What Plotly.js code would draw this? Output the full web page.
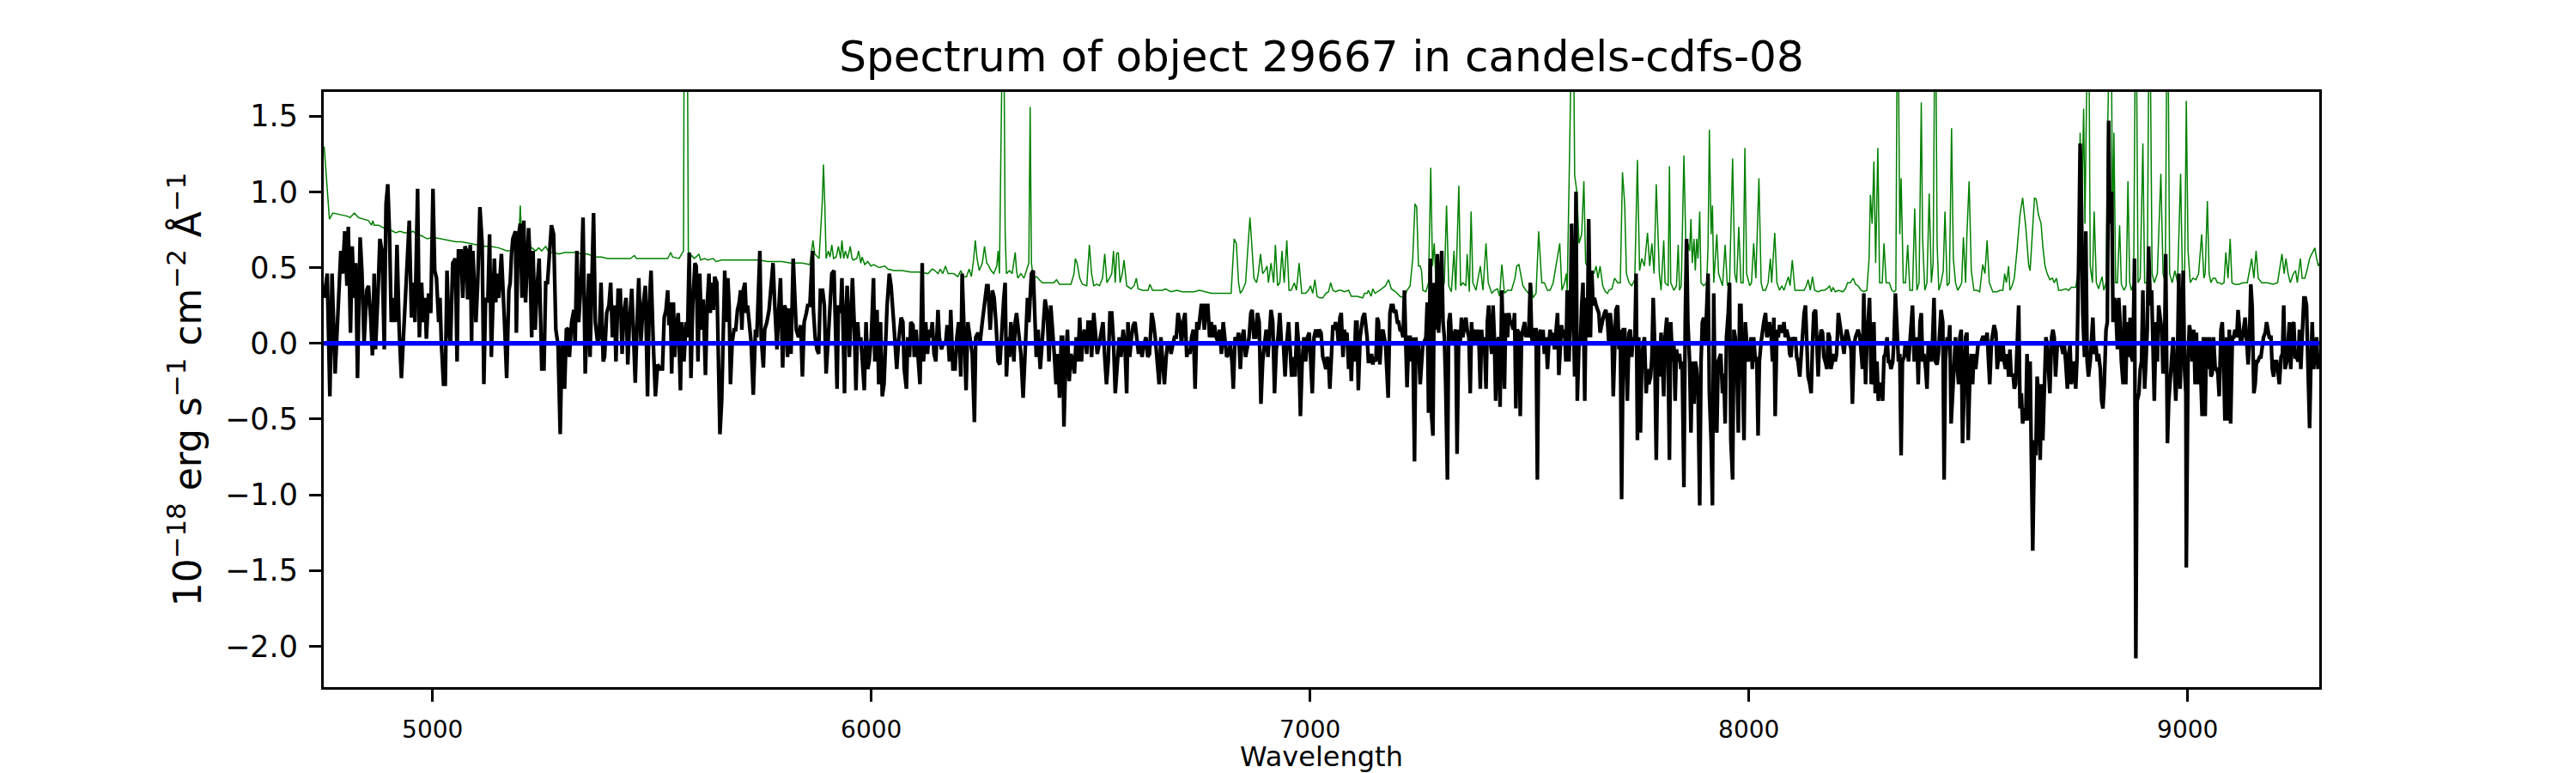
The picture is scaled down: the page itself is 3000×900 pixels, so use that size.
<!DOCTYPE html>
<html>
<head>
<meta charset="utf-8">
<title>Spectrum of object 29667</title>
<script src="https://cdn.plot.ly/plotly-3.0.1.min.js"></script>
<style>
  html, body { margin: 0; padding: 0; background: #ffffff; }
  #spectrum { width: 3000px; height: 900px; }
</style>
</head>
<body>
<div id="spectrum"></div>
<script>
// 1D spectrum of object 29667 (candels-cdfs-08).
// Wavelength in Angstrom, flux in 1e-18 erg/s/cm2/A.

const blackWave = [
  // 4750 - 5520
  4753,4760,4766,4771,4778,4786,4791,4795,4800,4805,4808,4813,4817,4821,4825,4829,4835,4839,4844,4850,
  4854,4859,4863,4867,4870,4876,4880,4885,4890,4894,4898,4902,4906,4911,4915,4919,4924,4929,4934,4939,
  4943,4947,4952,4956,4960,4966,4970,4975,4979,4983,4986,4991,4996,5001,5005,5009,5014,5017,5020,5025,
  5029,5033,5037,5041,5046,5052,5056,5059,5065,5069,5074,5078,5080,5086,5089,5092,5095,5099,5103,5108,
  5113,5117,5121,5126,5130,5134,5138,5141,5144,5148,5151,5157,5164,5169,5174,5177,5180,5183,5189,5191,
  5195,5200,5204,5208,5212,5216,5219,5222,5226,5229,5234,5239,5243,5249,5254,5258,5262,5267,5271,5276,
  5281,5286,5291,5295,5301,5305,5309,5312,5317,5322,5325,5329,5333,5339,5343,5348,5352,5356,5359,5363,
  5367,5371,5376,5380,5384,5389,5392,5397,5402,5406,5410,5415,5418,5423,5428,5432,5436,5441,5445,5449,
  5454,5457,5462,5467,5470,5475,5480,5485,5490,5494,5498,5503,5508,5513,5519,
  // 5520 - 6265
  5524,5528,5532,5536,5539,5542,5545,5549,5552,5555,5560,5565,5568,5573,5578,5581,5585,5589,5593,5598,
  5601,5605,5609,5613,5617,5622,5626,5630,5633,5637,5640,5643,5648,5652,5655,5659,5663,5666,5669,5673,
  5676,5679,5683,5687,5691,5695,5699,5702,5705,5708,5712,5715,5718,5722,5726,5731,5736,5739,5742,5746,
  5749,5754,5757,5762,5767,5772,5776,5780,5785,5789,5793,5798,5802,5806,5809,5813,5817,5822,5826,5829,
  5834,5839,5843,5847,5852,5855,5860,5866,5868,5872,5876,5880,5884,5889,5893,5897,5902,5906,5910,5915,
  5919,5922,5925,5930,5933,5939,5941,5945,5950,5953,5957,5961,5965,5969,5972,5976,5979,5984,5988,5992,
  5995,6000,6005,6008,6013,6017,6021,6025,6029,6032,6036,6041,6045,6051,6056,6058,6062,6068,6072,6075,
  6080,6083,6087,6090,6095,6098,6102,6106,6111,6116,6119,6124,6128,6132,6135,6139,6143,6147,6152,6155,
  6160,6165,6169,6173,6178,6181,6186,6191,6195,6199,6204,6207,6210,6216,6220,6225,6230,6235,6238,6243,
  6248,6253,6258,6263,
  // 6265 - 7025
  6266,6271,6276,6280,6284,6289,6293,6297,6302,6305,6308,6312,6315,6318,6321,6325,6328,6331,6336,6341,
  6346,6349,6352,6356,6359,6362,6365,6369,6372,6376,6380,6385,6389,6393,6396,6401,6405,6409,6413,6417,
  6421,6425,6429,6433,6436,6439,6443,6447,6451,6455,6459,6463,6467,6471,6475,6479,6482,6486,6491,6494,
  6498,6502,6507,6511,6515,6519,6524,6528,6532,6536,6540,6544,6548,6552,6556,6561,6565,6569,6574,6578,
  6582,6585,6589,6593,6597,6601,6605,6609,6613,6617,6621,6626,6630,6634,6639,6643,6647,6651,6656,6660,
  6664,6668,6672,6675,6680,6683,6687,6691,6695,6699,6703,6707,6711,6715,6719,6722,6726,6730,6734,6738,
  6742,6746,6750,6752,6755,6759,6763,6767,6771,6775,6778,6782,6786,6790,6794,6798,6802,6806,6810,6814,
  6818,6822,6825,6829,6833,6837,6841,6845,6849,6853,6857,6861,6865,6868,6872,6876,6880,6884,6888,6892,
  6896,6900,6904,6908,6911,6915,6919,6923,6927,6931,6935,6939,6943,6947,6951,6954,6958,6962,6966,6970,
  6974,6978,6982,6986,6990,6994,6998,7001,7005,7009,7013,7017,7021,7025,
  // 7029 - 7790
  7029,7032,7036,7039,7042,7045,7049,7052,7055,7058,7062,7065,7068,7071,7075,7078,7081,7084,7088,7091,
  7094,7097,7101,7104,7107,7110,7114,7117,7120,7124,7127,7130,7133,7137,7140,7143,7146,7150,7153,7156,
  7159,7163,7166,7169,7172,7178,7182,7185,7189,7192,7195,7199,7202,7205,7208,7212,7215,7218,7221,7225,
  7228,7231,7234,7238,7241,7244,7247,7251,7254,7257,7260,7264,7267,7270,7274,7277,7280,7283,7287,7290,
  7293,7296,7300,7303,7306,7309,7313,7316,7319,7322,7326,7329,7332,7335,7339,7342,7345,7348,7352,7355,
  7358,7362,7365,7368,7371,7375,7378,7381,7384,7388,7391,7394,7397,7401,7404,7407,7410,7414,7417,7420,
  7423,7427,7430,7433,7437,7440,7443,7446,7450,7453,7456,7459,7463,7466,7469,7472,7476,7479,7482,7485,
  7489,7492,7495,7498,7502,7505,7508,7511,7515,7518,7521,7525,7528,7531,7534,7538,7541,7544,7547,7551,
  7554,7557,7560,7564,7567,7570,7573,7577,7580,7583,7586,7590,7593,7596,7599,7603,7606,7609,7613,7616,
  7619,7622,7626,7629,7632,7635,7639,7642,7645,7648,7652,7655,7658,7661,7665,7668,7671,7674,7678,7681,
  7684,7688,7691,7694,7697,7701,7704,7707,7710,7714,7717,7720,7723,7727,7730,7733,7736,7740,7743,7746,
  7749,7753,7756,7759,7762,7766,7769,7772,7776,7779,7782,7785,7789,
  // 7793 - 8553
  7793,7796,7800,7803,7806,7809,7813,7816,7819,7822,7826,7829,7832,7835,7839,7842,7845,7848,7852,7855,
  7858,7861,7865,7868,7871,7875,7878,7881,7884,7888,7891,7894,7897,7901,7904,7907,7910,7914,7917,7920,
  7923,7927,7930,7933,7936,7940,7943,7946,7949,7953,7956,7959,7963,7966,7969,7972,7976,7979,7982,7985,
  7989,7992,7995,7998,8002,8005,8008,8011,8015,8018,8021,8024,8028,8031,8034,8038,8041,8044,8047,8051,
  8054,8057,8060,8064,8067,8070,8073,8077,8080,8083,8086,8090,8093,8096,8099,8103,8106,8109,8112,8116,
  8119,8122,8126,8129,8132,8135,8139,8142,8145,8148,8152,8155,8158,8161,8165,8168,8171,8174,8178,8181,
  8184,8187,8191,8194,8197,8200,8204,8207,8210,8214,8217,8220,8223,8227,8230,8233,8236,8240,8243,8246,
  8249,8253,8256,8259,8262,8266,8269,8272,8275,8279,8282,8285,8288,8292,8295,8298,8302,8305,8308,8311,
  8315,8318,8321,8324,8328,8331,8334,8337,8341,8344,8347,8350,8354,8357,8360,8364,8367,8370,8373,8377,
  8380,8383,8386,8390,8393,8396,8399,8403,8406,8409,8412,8416,8419,8422,8425,8429,8432,8435,8438,8442,
  8445,8448,8452,8455,8458,8461,8465,8468,8471,8474,8478,8481,8484,8487,8491,8494,8497,8500,8504,8507,
  8510,8513,8517,8520,8523,8527,8530,8533,8536,8540,8543,8546,8549,8553,
  // 8556 - 9300
  8556,8559,8563,8566,8569,8572,8576,8579,8582,8585,8589,8592,8595,8598,8602,8605,8608,8611,8615,8618,
  8621,8624,8628,8631,8634,8638,8641,8644,8647,8651,8654,8657,8660,8664,8667,8670,8673,8677,8680,8683,
  8686,8690,8693,8696,8699,8703,8706,8709,8712,8716,8719,8722,8726,8729,8732,8735,8739,8742,8745,8748,
  8752,8755,8758,8761,8765,8768,8771,8774,8778,8781,8784,8787,8791,8794,8797,8801,8804,8807,8810,8814,
  8817,8820,8823,8827,8830,8833,8836,8840,8843,8846,8849,8853,8856,8859,8862,8866,8869,8872,8875,8879,
  8882,8885,8889,8892,8895,8898,8902,8905,8908,8911,8915,8918,8921,8924,8928,8931,8934,8937,8941,8944,
  8947,8950,8954,8957,8960,8964,8967,8970,8973,8977,8980,8983,8986,8990,8993,8996,8997,
  9001,9004,9007,9010,9014,9017,9020,9023,9027,9030,9033,9036,9040,9043,9046,9050,9053,9056,9059,9063,
  9066,9069,9072,9076,9079,9082,9085,9089,9092,9095,9098,9102,9105,9108,9112,9115,9118,9121,9125,9128,
  9131,9134,9138,9141,9144,9147,9151,9154,9157,9160,9164,9167,9170,9173,9177,9180,9183,9186,9190,9193,
  9196,9199,9203,9206,9209,9213,9216,9219,9222,9226,9229,9232,9235,9239,9242,9245,9248,9252,9255,9258,
  9261,9265,9268,9271,9274,9278,9281,9284,9287,9291,9294,9297,9300
];

const blackFlux = [
  // 4750 - 5520
  0.30,0.46,-0.35,0.46,-0.20,0.25,0.61,0.46,0.74,0.38,0.77,0.07,0.64,0.30,0.53,-0.23,0.70,0.48,0.00,0.35,
  0.38,0.17,-0.08,0.46,-0.04,0.35,0.69,0.61,-0.04,0.92,1.05,0.72,0.14,0.30,0.14,0.65,0.09,-0.23,0.04,0.38,
  0.61,0.81,0.17,0.40,0.14,1.02,0.04,0.40,0.14,0.30,0.03,0.33,0.20,1.02,0.48,0.43,0.14,0.30,0.01,-0.27,
  -0.27,0.48,0.12,-0.01,0.53,0.56,-0.12,0.61,0.61,0.30,0.64,0.61,0.29,0.65,0.01,0.61,0.40,0.14,0.40,0.90,
  0.66,-0.27,0.30,0.27,0.72,-0.09,0.30,0.56,0.27,0.46,0.30,0.59,0.14,-0.23,0.35,0.40,0.59,0.69,0.74,0.07,
  0.69,0.79,0.30,0.81,0.27,0.64,0.76,0.56,0.04,0.61,0.09,0.40,0.56,-0.17,-0.17,0.40,0.40,0.61,0.78,0.72,
  0.09,-0.01,-0.60,0.01,-0.30,0.09,0.10,-0.09,0.14,0.22,-0.01,0.61,0.14,0.43,0.83,-0.20,0.14,0.46,-0.09,0.53,
  0.86,0.14,0.01,0.04,0.40,-0.12,-0.09,0.20,0.25,0.40,0.04,0.25,-0.12,0.35,0.35,-0.07,0.20,0.30,-0.14,0.14,
  0.36,0.14,-0.26,0.20,0.43,0.01,0.25,0.38,-0.35,0.25,0.48,0.01,-0.35,-0.14,-0.17,
  // 5520 - 6265
  -0.17,0.17,0.22,0.35,0.12,0.27,-0.20,0.27,-0.09,0.09,0.20,-0.31,0.14,-0.12,0.14,0.04,0.60,-0.23,0.25,0.53,
  0.51,-0.12,0.46,0.09,0.29,-0.21,0.25,0.46,0.20,0.40,0.22,0.44,0.40,-0.07,-0.60,-0.38,0.04,0.48,0.14,0.43,
  0.25,-0.27,0.01,0.09,0.09,0.22,0.27,0.35,0.09,0.35,0.40,0.20,0.25,0.12,0.01,-0.34,0.09,0.04,0.27,0.61,
  0.04,-0.16,0.09,0.14,0.22,0.43,0.53,0.25,-0.04,0.22,0.43,-0.16,0.25,0.22,-0.09,0.23,-0.07,0.56,0.25,0.09,
  0.04,0.12,-0.22,0.14,0.20,0.25,0.25,0.61,0.22,0.04,-0.04,-0.07,0.35,0.35,0.25,-0.20,0.04,0.27,0.46,0.48,
  -0.12,-0.30,0.25,0.20,0.43,-0.33,0.12,0.38,-0.09,0.12,0.43,0.14,-0.31,0.14,-0.01,0.04,-0.12,-0.31,0.14,-0.17,
  -0.12,0.04,0.43,-0.12,0.22,-0.27,0.14,-0.35,-0.27,0.04,0.25,0.46,0.38,0.14,-0.14,-0.17,0.01,0.17,0.14,-0.17,
  -0.30,0.04,-0.09,0.14,0.12,-0.09,0.09,-0.09,-0.27,0.53,-0.12,0.14,-0.07,0.09,0.04,0.14,-0.07,-0.12,0.22,0.04,
  -0.04,0.01,-0.01,0.12,-0.12,0.22,-0.17,-0.17,0.04,0.14,-0.22,0.46,0.14,-0.31,0.14,0.04,-0.07,-0.52,0.04,0.07,
  0.01,0.14,0.25,0.38,
  // 6265 - 7025
  0.38,0.09,0.35,0.30,0.14,-0.12,-0.14,0.09,0.30,0.40,-0.22,0.04,-0.09,0.14,0.07,-0.12,0.14,0.20,0.04,-0.07,
  -0.36,-0.12,0.04,0.30,0.14,0.35,0.46,0.48,0.25,-0.09,0.09,-0.17,-0.01,0.22,0.29,0.20,-0.12,0.25,0.04,-0.07,
  -0.27,-0.07,-0.36,0.04,0.04,-0.55,-0.12,0.09,-0.25,-0.07,-0.12,-0.20,0.04,-0.12,0.17,-0.12,0.04,0.09,-0.07,0.14,
  0.14,-0.09,0.20,0.09,-0.07,-0.01,0.07,0.14,-0.09,-0.27,-0.12,0.20,0.20,0.01,-0.33,-0.12,0.04,-0.09,0.09,-0.01,
  -0.33,0.14,-0.09,0.04,0.12,0.14,0.04,-0.07,0.01,-0.09,-0.01,0.04,-0.09,-0.07,0.20,0.14,0.04,-0.12,-0.27,0.04,
  -0.12,-0.27,-0.09,-0.01,0.01,-0.07,-0.01,0.04,0.04,0.20,0.14,-0.01,0.14,0.20,-0.09,-0.04,-0.07,0.04,0.09,-0.30,
  0.14,0.09,0.20,0.25,0.25,0.09,0.25,0.25,0.04,0.14,0.04,0.12,0.04,0.01,0.09,-0.07,0.14,0.04,-0.09,-0.07,
  -0.01,-0.12,-0.30,0.04,0.01,0.07,-0.17,0.04,0.09,-0.09,-0.01,0.04,0.20,0.22,0.04,0.04,0.20,0.14,-0.40,-0.12,
  -0.01,0.09,-0.09,0.09,0.22,0.14,-0.33,-0.04,0.04,0.20,-0.01,0.01,-0.22,0.01,0.14,-0.01,-0.22,-0.09,-0.22,0.14,
  -0.01,-0.48,-0.12,0.04,-0.12,0.04,0.07,-0.09,-0.33,0.04,0.09,0.04,0.09,0.07,
  // 7029 - 7790
  -0.09,-0.12,-0.17,-0.09,-0.12,-0.30,-0.01,0.12,0.09,0.14,0.09,-0.01,0.17,0.20,-0.09,0.09,0.04,0.07,-0.17,0.01,
  -0.25,0.01,-0.12,0.14,0.14,-0.31,0.04,0.14,0.17,0.20,0.14,0.04,-0.12,-0.12,-0.07,-0.14,-0.09,-0.12,0.17,0.14,
  -0.14,0.07,0.09,0.04,-0.01,-0.36,0.20,0.25,0.25,0.20,0.22,0.14,0.14,0.09,0.09,0.04,0.35,0.01,-0.29,0.04,
  0.04,-0.12,0.04,-0.78,0.04,-0.07,-0.01,-0.27,-0.07,-0.01,0.01,0.04,0.27,-0.46,0.56,-0.48,-0.61,0.40,0.09,0.59,
  0.07,0.40,0.61,0.14,0.04,-0.27,-0.90,0.14,0.20,0.04,0.01,0.07,0.09,-0.73,0.09,-0.01,0.17,0.04,0.14,0.17,
  0.09,0.04,-0.33,0.14,-0.01,0.09,0.04,0.01,0.09,-0.30,0.09,-0.07,0.04,-0.30,0.14,0.25,0.04,-0.07,0.25,0.04,
  -0.38,0.01,0.04,-0.42,0.35,0.04,-0.30,0.20,0.04,0.20,0.14,0.14,0.09,0.20,-0.43,0.09,0.07,-0.48,0.04,0.09,
  0.14,0.04,0.09,0.04,0.40,0.04,-0.01,0.09,0.09,-0.90,0.04,0.09,-0.01,0.09,-0.07,0.04,-0.17,-0.01,0.09,0.01,
  0.07,-0.04,0.04,0.20,-0.21,-0.04,0.12,0.04,0.09,-0.12,0.35,-0.12,0.14,0.79,0.40,-0.22,1.00,-0.38,0.01,-0.01,
  0.25,0.40,-0.38,0.30,0.04,0.82,0.04,0.48,0.25,0.30,0.25,0.22,0.20,0.07,0.14,0.17,0.20,0.22,0.14,-0.01,
  0.20,0.09,-0.35,-0.12,0.22,0.25,-0.04,0.09,-1.03,0.09,0.09,-0.07,-0.38,0.07,0.09,-0.09,0.04,-0.01,0.46,-0.64,
  0.04,-0.59,-0.12,-0.01,0.04,-0.33,-0.17,-0.27,-0.22,-0.09,0.30,0.04,-0.77,
  // 7793 - 8553
  0.01,-0.22,0.07,-0.12,-0.35,0.04,0.17,-0.12,-0.77,0.14,-0.12,0.01,-0.38,-0.04,-0.12,-0.07,-0.17,-0.12,-0.95,0.14,
  0.69,0.14,-0.12,-0.59,-0.12,-0.40,-0.12,-0.17,-0.30,-1.07,-0.12,0.14,0.17,0.01,0.25,0.46,-0.33,-0.64,-1.07,0.33,
  -0.38,-0.59,-0.12,-0.09,-0.07,-0.33,-0.20,-0.53,0.04,0.20,0.40,-0.64,-0.90,0.09,0.04,-0.07,-0.59,0.25,0.25,-0.12,
  -0.64,0.14,0.01,-0.12,-0.07,0.04,-0.17,0.04,-0.12,-0.09,-0.61,-0.12,0.01,0.09,0.14,0.20,0.04,0.07,0.14,0.04,
  -0.12,0.17,-0.48,0.09,0.04,0.12,0.09,0.07,0.14,0.04,0.09,0.04,-0.07,-0.09,0.04,0.01,0.04,-0.09,-0.12,-0.22,
  -0.09,0.04,0.20,0.25,0.01,-0.22,-0.27,-0.33,-0.01,0.20,0.22,0.04,-0.22,0.01,0.09,0.07,-0.09,-0.12,-0.17,0.07,
  0.04,-0.17,-0.12,-0.07,-0.12,-0.07,0.20,0.14,0.04,-0.01,-0.07,0.04,0.09,0.04,-0.01,-0.04,-0.40,-0.01,0.04,0.07,
  0.09,0.04,-0.07,-0.17,0.33,-0.27,0.01,0.22,0.30,-0.27,-0.22,0.14,-0.33,-0.12,-0.38,-0.27,-0.27,-0.38,-0.09,-0.07,
  0.04,-0.12,-0.12,-0.17,-0.12,0.04,0.33,0.14,-0.12,-0.07,-0.74,-0.12,-0.09,0.01,-0.01,-0.12,0.04,0.14,0.25,-0.12,
  -0.07,0.04,-0.27,0.14,0.20,-0.12,-0.07,-0.17,-0.30,-0.01,-0.07,-0.12,0.04,0.30,-0.12,-0.14,-0.07,0.14,0.22,0.14,
  -0.90,-0.12,0.04,-0.01,0.12,-0.53,-0.25,-0.12,0.04,-0.12,-0.27,0.04,0.09,-0.66,-0.12,0.04,0.07,-0.64,-0.17,-0.07,
  -0.27,-0.07,-0.17,-0.07,0.01,-0.01,0.01,0.04,0.04,0.01,0.07,-0.07,-0.27,0.01,
  // 8556 - 9300
  0.09,0.12,0.07,-0.17,-0.09,-0.01,-0.12,0.01,-0.12,-0.17,-0.07,-0.22,-0.04,-0.22,-0.20,-0.30,-0.27,0.04,0.25,-0.43,
  -0.33,-0.53,-0.43,-0.51,-0.07,-0.51,-0.12,-0.79,-1.37,-0.64,-0.74,-0.22,-0.33,-0.77,-0.27,-0.64,-0.33,0.04,-0.01,-0.22,
  -0.33,0.04,0.09,0.04,-0.22,-0.01,0.01,-0.01,-0.01,-0.07,-0.01,-0.12,-0.30,-0.07,-0.01,-0.27,-0.17,-0.12,-0.30,-0.09,
  0.61,1.32,0.92,0.20,-0.09,0.74,-0.12,-0.22,-0.12,0.01,0.17,-0.07,-0.01,-0.12,-0.07,-0.17,-0.38,-0.43,-0.27,0.09,
  0.14,1.47,0.79,1.00,0.14,0.30,0.25,-0.04,0.30,0.14,-0.12,-0.27,0.25,-0.27,0.14,-0.09,0.17,-0.09,-0.12,0.56,
  -2.08,-0.38,-0.33,-0.17,-0.12,0.35,-0.30,-0.12,0.09,0.64,0.25,0.35,-0.09,-0.38,0.14,-0.12,0.25,0.17,0.09,-0.20,
  -0.12,0.59,-0.66,-0.38,-0.27,-0.12,0.04,-0.17,-0.38,-0.07,0.46,-0.30,0.04,0.48,-0.17,-0.33,-1.48,
  -0.09,0.12,0.07,-0.12,0.09,-0.27,0.07,-0.27,0.01,-0.22,-0.48,0.04,-0.48,0.04,-0.17,0.04,-0.22,-0.20,0.04,-0.17,
  -0.17,-0.20,-0.35,0.09,0.14,-0.12,-0.51,0.04,-0.51,0.09,-0.53,0.04,0.04,0.09,0.04,0.22,0.09,-0.01,0.04,0.14,
  0.17,0.04,-0.14,0.04,0.39,0.25,-0.33,-0.27,-0.12,-0.12,-0.09,-0.09,-0.01,0.04,0.07,0.14,0.09,0.04,0.04,-0.17,
  -0.22,-0.12,-0.12,-0.22,-0.27,-0.09,-0.07,0.25,-0.17,-0.12,0.01,0.14,-0.17,0.12,0.14,-0.09,-0.09,-0.12,0.09,-0.17,
  0.04,0.30,0.30,0.25,-0.12,-0.56,-0.12,0.14,-0.17,-0.07,0.04,-0.17,-0.07
];

// Green curve (sky / noise level); values above 1.66 run off the top of the axes.
const skyWave = [
  4753,4765,4773,4792,4805,4812,4822,4831,4844,4854,4861,4864,4867,4877,4890,4903,4916,4926,4936,4949,
  4955,4965,4975,4988,5001,5020,5040,5053,5066,5086,5105,5118,5131,5151,5170,5190,5196,5200,5203,5206,
  5222,5235,5242,5249,5258,5265,5275,5288,5301,5314,5330,5340,5353,5372,5385,5399,5418,5438,5451,5460,
  5465,5483,5503,5522,
  5536,5543,5547,5562,5568,5572,5574,5580,5583,5586,5591,5596,5601,5607,5611,5620,5627,5640,5646,5659,
  5673,5686,5699,5718,5731,5744,5764,5777,5796,5816,5829,5842,5860,5867,5871,5881,5888,5891,5894,5897,
  5902,5906,5910,5914,5920,5925,5930,5933,5937,5941,5946,5952,5956,5959,5967,5971,5976,5979,5985,5992,
  5999,6005,6018,6031,6038,6051,6070,6090,6109,6129,6139,6145,6152,6157,6163,6169,6175,6188,6197,6204,
  6210,6217,6223,6228,6233,6237,6241,6246,6253,6258,6263,
  6266,6273,6279,6286,6289,6292,6297,6301,6305,6308,6315,6321,6328,6331,6334,6341,6348,6354,6359,6362,
  6365,6369,6377,6383,6390,6403,6416,6422,6429,6442,6455,6462,6465,6469,6475,6481,6491,6497,6502,6507,
  6514,6520,6527,6532,6537,6543,6548,6552,6556,6559,6563,6567,6572,6576,6582,6592,6599,6604,6608,6618,
  6631,6635,6641,6651,6664,6670,6683,6696,6709,6722,6735,6748,6762,6775,6788,6807,6820,6827,6832,6837,
  6841,6846,6853,6859,6863,6867,6872,6878,6882,6887,6892,6897,6902,6905,6911,6917,6921,6926,6931,6936,
  6941,6947,6952,6957,6964,6969,6975,6981,6990,6996,7001,7006,7011,7016,7022,
  7029,7036,7042,7047,7052,7058,7065,7071,7078,7088,7094,7107,7120,7124,7130,7133,7139,7143,7148,7159,
  7172,7179,7185,7195,7205,7215,7221,7228,7234,7239,7243,7247,7251,7254,7257,7264,7270,7275,7279,7283,
  7287,7293,7300,7306,7311,7316,7322,7328,7332,7339,7343,7348,7355,7358,7363,7367,7371,7378,7388,7394,
  7401,7406,7414,7420,7427,7432,7437,7443,7450,7459,7467,7471,7476,7480,7485,7492,7498,7504,7508,7515,
  7521,7528,7534,7541,7547,7554,7560,7569,7574,7580,7584,7586,7591,7595,7599,7603,7608,7613,7619,7624,
  7628,7632,7639,7643,7647,7652,7656,7661,7667,7673,7678,7681,7688,7694,7701,7707,7712,7717,7721,7727,
  7733,7740,7746,7751,7756,7762,7769,7774,7779,7784,7789,
  7796,7800,7806,7809,7816,7819,7822,7829,7835,7839,7842,7846,7852,7855,7858,7861,7865,7868,7871,7875,
  7878,7881,7884,7888,7891,7897,7904,7907,7910,7914,7917,7920,7927,7931,7940,7946,7951,7956,7963,7968,
  7972,7977,7982,7987,7991,7995,8002,8006,8011,8016,8023,8028,8032,8038,8044,8049,8052,8059,8064,8070,
  8075,8080,8085,8090,8094,8099,8105,8112,8119,8126,8131,8135,8140,8145,8150,8158,8166,8172,8178,8184,
  8188,8192,8197,8205,8214,8220,8225,8231,8238,8243,8249,8256,8262,8269,8274,8277,8281,8285,8289,8294,
  8298,8304,8308,8313,8320,8326,8331,8335,8339,8344,8347,8352,8357,8362,8367,8373,8378,8383,8388,8393,
  8396,8401,8406,8411,8416,8420,8425,8429,8433,8438,8443,8447,8452,8457,8462,8466,8471,8476,8482,8485,
  8489,8494,8497,8502,8507,8513,8520,8526,8533,8538,8543,8548,
  8556,8566,8572,8579,8583,8587,8592,8595,8600,8605,8611,8618,8624,8631,8638,8641,8646,8651,8655,8660,
  8666,8670,8675,8680,8686,8692,8696,8701,8706,8712,8722,8729,8735,8745,8750,8755,8759,8763,8766,8770,
  8774,8778,8783,8787,8792,8797,8805,8809,8814,8818,8822,8825,8829,8832,8836,8840,8845,8849,8855,8860,
  8864,8868,8872,8877,8882,8887,8892,8898,8902,8908,8913,8919,8924,8931,8939,8944,8949,8954,8959,8965,
  8971,8977,8984,8988,8993,8997,9001,9006,9012,9019,9025,9032,9037,9040,9045,9049,9053,9058,9063,9068,
  9072,9078,9083,9087,9092,9097,9101,9107,9117,9126,9136,9141,9146,9151,9156,9161,9169,9182,9195,9205,
  9210,9215,9220,9224,9229,9234,9241,9246,9250,9257,9261,9267,9272,9278,9283,9286,9290,9294,9298,9301
];

const skyFlux = [
  1.30,0.82,0.86,0.85,0.84,0.83,0.86,0.83,0.82,0.81,0.78,0.81,0.78,0.78,0.76,0.75,0.73,0.74,0.73,0.73,
  0.74,0.72,0.71,0.69,0.70,0.69,0.68,0.67,0.67,0.66,0.65,0.64,0.64,0.63,0.61,0.62,0.64,0.91,0.69,0.64,
  0.64,0.61,0.63,0.61,0.64,0.60,0.60,0.59,0.60,0.60,0.60,0.59,0.59,0.57,0.57,0.56,0.56,0.56,0.56,0.58,
  0.56,0.56,0.56,0.56,
  0.56,0.60,0.57,0.56,0.59,0.61,2.60,2.60,0.61,0.56,0.58,0.56,0.57,0.59,0.55,0.56,0.55,0.56,0.54,0.55,
  0.55,0.55,0.55,0.55,0.55,0.55,0.54,0.54,0.54,0.53,0.53,0.53,0.52,0.68,0.59,0.56,0.92,1.18,0.92,0.56,
  0.61,0.57,0.65,0.56,0.57,0.64,0.56,0.68,0.56,0.61,0.56,0.64,0.56,0.55,0.56,0.61,0.53,0.57,0.52,0.54,
  0.51,0.52,0.50,0.51,0.49,0.48,0.48,0.47,0.47,0.46,0.49,0.48,0.46,0.49,0.46,0.51,0.46,0.46,0.44,0.48,
  0.44,0.44,0.49,0.44,0.55,0.68,0.56,0.48,0.53,0.64,0.53,
  0.52,0.48,0.46,0.51,0.61,0.46,2.60,2.60,0.74,0.46,0.48,0.46,0.60,0.48,0.43,0.46,0.43,0.48,0.53,1.56,
  0.53,0.43,0.44,0.42,0.40,0.40,0.40,0.42,0.39,0.39,0.39,0.46,0.56,0.53,0.43,0.39,0.38,0.65,0.46,0.38,
  0.39,0.38,0.43,0.59,0.40,0.43,0.46,0.61,0.40,0.59,0.60,0.40,0.46,0.55,0.38,0.36,0.38,0.43,0.36,0.35,
  0.35,0.39,0.35,0.35,0.35,0.36,0.34,0.35,0.34,0.34,0.34,0.35,0.34,0.33,0.33,0.33,0.33,0.69,0.66,0.40,
  0.33,0.35,0.40,0.66,0.83,0.66,0.43,0.40,0.46,0.59,0.46,0.48,0.51,0.40,0.53,0.40,0.65,0.38,0.40,0.61,
  0.40,0.68,0.35,0.35,0.40,0.35,0.53,0.33,0.33,0.35,0.38,0.33,0.42,0.31,0.30,
  0.30,0.33,0.34,0.40,0.35,0.34,0.35,0.35,0.34,0.35,0.31,0.31,0.30,0.33,0.33,0.35,0.31,0.36,0.33,0.35,
  0.38,0.42,0.36,0.34,0.31,0.30,0.35,0.38,0.56,0.92,0.90,0.51,0.51,0.48,0.35,0.34,0.40,1.16,0.51,0.66,
  0.38,0.35,0.35,0.40,0.91,0.38,0.34,0.61,0.35,1.04,0.38,0.40,0.38,0.59,0.34,0.87,0.40,0.35,0.51,0.35,
  0.66,0.40,0.33,0.35,0.36,0.31,0.52,0.33,0.35,0.35,0.43,0.51,0.52,0.46,0.38,0.35,0.33,0.40,0.30,0.33,
  0.74,0.40,0.40,0.35,0.35,0.40,0.51,0.66,0.35,0.40,0.46,0.35,1.18,2.60,2.60,1.11,1.00,0.66,0.72,1.07,
  0.53,0.51,0.40,0.48,0.46,0.51,0.43,0.51,0.38,0.34,0.33,0.35,0.36,0.43,0.40,0.40,1.13,0.92,0.46,0.40,
  0.38,0.42,1.21,0.48,0.56,0.51,0.73,0.51,0.66,0.46,1.05,
  0.46,0.35,0.68,0.40,0.38,1.17,0.40,0.35,0.38,0.65,0.35,0.38,1.24,0.74,0.43,0.66,0.61,0.82,0.53,0.69,
  0.48,0.69,0.56,0.87,0.40,0.38,0.40,0.64,1.41,0.72,0.91,0.40,0.72,0.46,0.38,0.65,0.38,0.39,1.22,0.46,
  0.40,0.77,0.40,0.40,1.29,0.46,0.38,0.40,0.66,0.43,1.09,0.40,0.35,0.35,0.40,0.56,0.40,0.73,0.40,0.35,
  0.38,0.35,0.40,0.44,0.38,0.55,0.35,0.35,0.35,0.35,0.38,0.42,0.35,0.44,0.35,0.34,0.35,0.35,0.36,0.38,
  0.34,0.37,0.34,0.35,0.34,0.36,0.40,0.40,0.43,0.39,0.38,0.35,0.34,0.35,0.56,0.98,0.79,1.20,0.53,1.29,
  0.40,0.40,0.66,0.40,0.40,0.35,0.34,0.35,2.60,0.72,1.09,0.40,0.40,0.65,0.35,0.35,0.89,0.35,0.40,1.59,
  0.69,0.35,0.40,0.99,0.40,0.53,2.60,0.66,0.35,0.40,0.48,0.87,0.38,0.40,1.42,0.56,0.40,0.35,0.38,0.40,
  0.70,0.40,0.72,1.07,0.48,0.35,0.35,0.34,0.52,0.46,0.68,0.40,
  0.34,0.34,0.35,0.35,0.46,0.40,0.51,0.35,0.38,0.43,0.61,0.85,0.96,0.77,0.51,0.48,0.72,0.96,0.95,0.85,
  0.79,0.64,0.51,0.46,0.42,0.43,0.40,0.43,0.35,0.35,0.36,0.35,0.37,0.37,0.46,1.39,0.92,1.55,0.79,1.63,
  2.60,0.51,0.40,0.87,0.40,0.36,0.44,0.35,0.40,1.44,2.60,2.60,0.66,1.39,0.40,0.40,0.78,0.39,0.35,0.38,
  1.07,0.40,0.35,0.40,2.60,0.40,0.43,1.32,0.40,0.40,2.60,0.46,0.40,0.46,1.12,0.46,0.40,2.60,0.46,0.40,
  0.48,0.40,1.12,0.46,0.40,1.60,0.61,0.40,0.43,0.42,0.46,0.72,0.43,0.46,0.94,0.46,0.40,0.43,0.43,0.40,
  0.40,0.39,0.40,0.60,0.43,0.69,0.40,0.39,0.39,0.40,0.40,0.48,0.56,0.43,0.61,0.43,0.40,0.40,0.39,0.40,
  0.51,0.59,0.46,0.56,0.46,0.40,0.46,0.48,0.40,0.56,0.43,0.43,0.48,0.56,0.59,0.61,0.63,0.56,0.51,0.53
];

// Zero level drawn across the full wavelength window.
const zeroWave = [4752, 9300];
const zeroFlux = [0, 0];

const xTicks = [5000, 6000, 7000, 8000, 9000];

(function () {
  "use strict";

  if (blackWave.length !== blackFlux.length || skyWave.length !== skyFlux.length) {
    console.warn("spectrum arrays differ in length",
      blackWave.length, blackFlux.length, skyWave.length, skyFlux.length);
  }

  const FONT = "DejaVu Sans, Liberation Sans, sans-serif";

  const traces = [
    {
      x: skyWave, y: skyFlux, type: "scatter", mode: "lines",
      line: { color: "#008000", width: 1.5 },
      hoverinfo: "skip",
    },
    {
      x: blackWave, y: blackFlux, type: "scatter", mode: "lines",
      line: { color: "#000000", width: 4.3 },
      hoverinfo: "skip",
    },
    {
      x: zeroWave, y: zeroFlux, type: "scatter", mode: "lines",
      line: { color: "#0000ff", width: 5.5 },
      hoverinfo: "skip",
    },
  ];

  const layout = {
    width: 3000,
    height: 900,
    paper_bgcolor: "#ffffff",
    plot_bgcolor: "#ffffff",
    showlegend: false,
    margin: { l: 377, r: 299, t: 107, b: 100, pad: 0 },
    font: { family: FONT, color: "#000000" },
    title: {
      text: "Spectrum of object 29667 in candels-cdfs-08",
      font: { family: FONT, size: 50, color: "#000000" },
      x: 0.5, xref: "paper", xanchor: "center",
      y: 0.927, yanchor: "middle",
    },
    xaxis: {
      range: [4752, 9300],
      tickvals: xTicks,
      ticktext: xTicks.map(String),
      ticks: "outside", ticklen: 14, tickwidth: 3, tickcolor: "#000000",
      tickfont: { family: FONT, size: 28, color: "#000000" },
      ticklabelstandoff: 8,
      showline: true, linewidth: 3, linecolor: "#000000", mirror: true,
      showgrid: false, zeroline: false,
      title: {
        text: "Wavelength",
        font: { family: FONT, size: 32, color: "#000000" },
        standoff: 1,
      },
    },
    yaxis: {
      range: [-2.27, 1.66],
      tick0: 0, dtick: 0.5, tickformat: ".1f",
      ticks: "outside", ticklen: 14, tickwidth: 3, tickcolor: "#000000",
      tickfont: { family: FONT, size: 35, color: "#000000" },
      ticklabelstandoff: 6,
      showline: true, linewidth: 3, linecolor: "#000000", mirror: true,
      showgrid: false, zeroline: false,
      title: {
        text: "10<sup>\u221218</sup> erg s<sup>\u22121</sup> cm<sup>\u22122</sup> \u00c5<sup>\u22121</sup>",
        font: { family: FONT, size: 44, color: "#000000" },
        standoff: 14,
      },
    },
    hovermode: false,
  };

  Plotly.newPlot("spectrum", traces, layout, { displayModeBar: false, staticPlot: true });
})();
</script>
</body>
</html>
